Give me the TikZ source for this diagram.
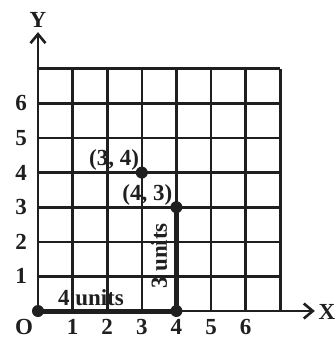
\documentclass[tikz,border=0pt]{standalone}
\usepackage{fontspec}
\setmainfont{Liberation Serif}
\usetikzlibrary{arrows.meta}
\begin{document}
\begin{tikzpicture}[x=34.6pt,y=34.6pt,
  gridline/.style={line width=2.6pt,color=black!88},
  axisline/.style={line width=2.6pt,color=black!88,-{Straight Barb[length=9pt,width=15pt,line width=2.6pt]}},
  pathline/.style={line width=5pt,color=black!88},
  dot/.style={circle,fill=black!88,inner sep=0pt,minimum size=12pt},
  lbl/.style={font=\bfseries\fontsize{23}{26}\selectfont,text=black!88,inner sep=0pt}]
\useasboundingbox (-1.098,-0.780) rectangle (8.584,8.988);
\foreach \k in {1,...,7} {
  \draw[gridline] (\k,0) -- (\k,7);
  \draw[gridline] (0,\k) -- (7,\k);
}
\coordinate (ytip) at (0,8.06);
\coordinate (xtip) at (8.0,0);
\node[dot] (O) at (0,0) {};
\node[dot] (A) at (4,0) {};
\node[dot] (B) at (4,3) {};
\node[dot] (C) at (3,4) {};
\draw[axisline] (O.center) -- (ytip);
\draw[axisline] (O.center) -- (xtip);
\draw[pathline] (O.center) -- (A.center) -- (B.center);
\node[lbl] (Y) at (0,8.41) {Y};
\node[lbl] (X) at (8.35,-0.03) {X};
\node[lbl] (Olbl) at (-0.40,-0.47) {O};
\foreach \k in {1,...,6} {
  \node[lbl] (x\k) at (\k,-0.47) {\k};
  \node[lbl] (y\k) at (-0.49,\k) {\k};
}
\node[lbl] (Clbl) at (2.2,4.36) {(3, 4)};
\node[lbl] (Blbl) at (3.16,3.35) {(4, 3)};
\node[lbl] (h) at (1.53,0.40) {4 units};
\node[lbl,rotate=90] (v) at (3.50,1.59) {3 units};
\end{tikzpicture}
\end{document}
